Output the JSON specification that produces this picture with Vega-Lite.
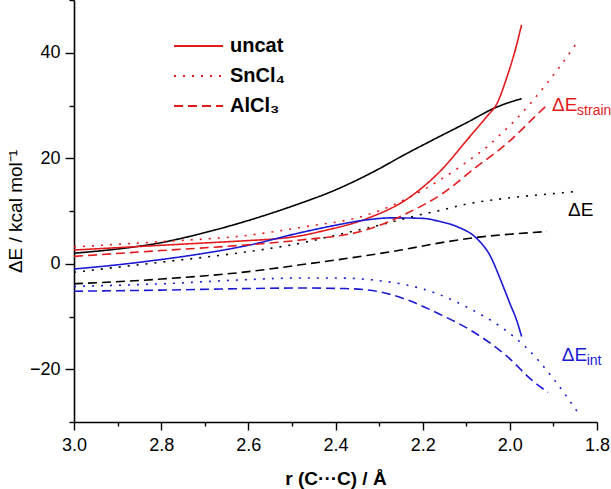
{
  "$schema": "https://vega.github.io/schema/vega-lite/v6.json",
  "width": 523,
  "height": 422,
  "autosize": {"type": "none"},
  "padding": {"left": 74, "top": 0, "right": 14, "bottom": 67},
  "background": "white",
  "config": {
    "view": {"stroke": null},
    "font": "Liberation Sans",
    "axis": {"grid": false, "domainColor": "black", "domainWidth": 1.6, "tickColor": "black", "tickWidth": 1.4, "labelColor": "black", "titleColor": "black", "labelFont": "Liberation Sans", "titleFont": "Liberation Sans", "labelFontSize": 18}
  },
  "datasets": {
    "curves": [
      {"r": 3.0, "E": 2.0, "comp": "total", "cat": "uncat"},
      {"r": 2.9, "E": 2.8, "comp": "total", "cat": "uncat"},
      {"r": 2.8, "E": 4.0, "comp": "total", "cat": "uncat"},
      {"r": 2.7, "E": 5.9, "comp": "total", "cat": "uncat"},
      {"r": 2.6, "E": 8.2, "comp": "total", "cat": "uncat"},
      {"r": 2.5, "E": 10.9, "comp": "total", "cat": "uncat"},
      {"r": 2.4, "E": 14.0, "comp": "total", "cat": "uncat"},
      {"r": 2.3, "E": 18.0, "comp": "total", "cat": "uncat"},
      {"r": 2.25, "E": 20.3, "comp": "total", "cat": "uncat"},
      {"r": 2.176, "E": 23.5, "comp": "total", "cat": "uncat"},
      {"r": 2.1, "E": 26.7, "comp": "total", "cat": "uncat"},
      {"r": 2.03, "E": 29.7, "comp": "total", "cat": "uncat"},
      {"r": 1.973, "E": 31.3, "comp": "total", "cat": "uncat"},

      {"r": 3.0, "E": 2.6, "comp": "strain", "cat": "uncat"},
      {"r": 2.8, "E": 3.5, "comp": "strain", "cat": "uncat"},
      {"r": 2.6, "E": 4.4, "comp": "strain", "cat": "uncat"},
      {"r": 2.54, "E": 4.7, "comp": "strain", "cat": "uncat"},
      {"r": 2.48, "E": 5.3, "comp": "strain", "cat": "uncat"},
      {"r": 2.43, "E": 6.2, "comp": "strain", "cat": "uncat"},
      {"r": 2.33, "E": 8.5, "comp": "strain", "cat": "uncat"},
      {"r": 2.23, "E": 12.6, "comp": "strain", "cat": "uncat"},
      {"r": 2.15, "E": 18.4, "comp": "strain", "cat": "uncat"},
      {"r": 2.1, "E": 23.3, "comp": "strain", "cat": "uncat"},
      {"r": 2.053, "E": 27.9, "comp": "strain", "cat": "uncat"},
      {"r": 2.03, "E": 30.3, "comp": "strain", "cat": "uncat"},
      {"r": 2.007, "E": 35.3, "comp": "strain", "cat": "uncat"},
      {"r": 1.988, "E": 40.4, "comp": "strain", "cat": "uncat"},
      {"r": 1.973, "E": 45.3, "comp": "strain", "cat": "uncat"},

      {"r": 3.0, "E": -1.0, "comp": "int", "cat": "uncat"},
      {"r": 2.9, "E": -0.2, "comp": "int", "cat": "uncat"},
      {"r": 2.8, "E": 0.8, "comp": "int", "cat": "uncat"},
      {"r": 2.7, "E": 2.0, "comp": "int", "cat": "uncat"},
      {"r": 2.6, "E": 3.5, "comp": "int", "cat": "uncat"},
      {"r": 2.48, "E": 5.9, "comp": "int", "cat": "uncat"},
      {"r": 2.4, "E": 7.3, "comp": "int", "cat": "uncat"},
      {"r": 2.33, "E": 8.3, "comp": "int", "cat": "uncat"},
      {"r": 2.27, "E": 8.7, "comp": "int", "cat": "uncat"},
      {"r": 2.2, "E": 8.6, "comp": "int", "cat": "uncat"},
      {"r": 2.16, "E": 8.0, "comp": "int", "cat": "uncat"},
      {"r": 2.12, "E": 7.0, "comp": "int", "cat": "uncat"},
      {"r": 2.076, "E": 4.8, "comp": "int", "cat": "uncat"},
      {"r": 2.045, "E": 1.5, "comp": "int", "cat": "uncat"},
      {"r": 2.02, "E": -3.3, "comp": "int", "cat": "uncat"},
      {"r": 2.0, "E": -7.5, "comp": "int", "cat": "uncat"},
      {"r": 1.984, "E": -10.8, "comp": "int", "cat": "uncat"},
      {"r": 1.973, "E": -13.8, "comp": "int", "cat": "uncat"},

      {"r": 3.0, "E": 3.2, "comp": "strain", "cat": "SnCl₄"},
      {"r": 2.8, "E": 4.2, "comp": "strain", "cat": "SnCl₄"},
      {"r": 2.6, "E": 5.4, "comp": "strain", "cat": "SnCl₄"},
      {"r": 2.48, "E": 6.9, "comp": "strain", "cat": "SnCl₄"},
      {"r": 2.33, "E": 9.2, "comp": "strain", "cat": "SnCl₄"},
      {"r": 2.24, "E": 12.2, "comp": "strain", "cat": "SnCl₄"},
      {"r": 2.16, "E": 15.9, "comp": "strain", "cat": "SnCl₄"},
      {"r": 2.087, "E": 20.0, "comp": "strain", "cat": "SnCl₄"},
      {"r": 2.049, "E": 22.4, "comp": "strain", "cat": "SnCl₄"},
      {"r": 2.019, "E": 24.7, "comp": "strain", "cat": "SnCl₄"},
      {"r": 2.0, "E": 26.2, "comp": "strain", "cat": "SnCl₄"},
      {"r": 1.958, "E": 29.9, "comp": "strain", "cat": "SnCl₄"},
      {"r": 1.912, "E": 34.5, "comp": "strain", "cat": "SnCl₄"},
      {"r": 1.885, "E": 37.4, "comp": "strain", "cat": "SnCl₄"},
      {"r": 1.843, "E": 42.3, "comp": "strain", "cat": "SnCl₄"},

      {"r": 3.0, "E": -4.3, "comp": "int", "cat": "SnCl₄"},
      {"r": 2.8, "E": -3.8, "comp": "int", "cat": "SnCl₄"},
      {"r": 2.6, "E": -3.0, "comp": "int", "cat": "SnCl₄"},
      {"r": 2.48, "E": -2.7, "comp": "int", "cat": "SnCl₄"},
      {"r": 2.4, "E": -2.7, "comp": "int", "cat": "SnCl₄"},
      {"r": 2.3, "E": -3.2, "comp": "int", "cat": "SnCl₄"},
      {"r": 2.176, "E": -5.4, "comp": "int", "cat": "SnCl₄"},
      {"r": 2.099, "E": -8.2, "comp": "int", "cat": "SnCl₄"},
      {"r": 2.022, "E": -11.9, "comp": "int", "cat": "SnCl₄"},
      {"r": 1.961, "E": -16.0, "comp": "int", "cat": "SnCl₄"},
      {"r": 1.9, "E": -21.8, "comp": "int", "cat": "SnCl₄"},
      {"r": 1.843, "E": -28.3, "comp": "int", "cat": "SnCl₄"},

      {"r": 3.0, "E": -1.6, "comp": "total", "cat": "SnCl₄"},
      {"r": 2.8, "E": 0.3, "comp": "total", "cat": "SnCl₄"},
      {"r": 2.6, "E": 2.3, "comp": "total", "cat": "SnCl₄"},
      {"r": 2.48, "E": 3.9, "comp": "total", "cat": "SnCl₄"},
      {"r": 2.4, "E": 5.4, "comp": "total", "cat": "SnCl₄"},
      {"r": 2.3, "E": 7.3, "comp": "total", "cat": "SnCl₄"},
      {"r": 2.2, "E": 9.4, "comp": "total", "cat": "SnCl₄"},
      {"r": 2.16, "E": 10.1, "comp": "total", "cat": "SnCl₄"},
      {"r": 2.1, "E": 11.3, "comp": "total", "cat": "SnCl₄"},
      {"r": 2.0, "E": 12.5, "comp": "total", "cat": "SnCl₄"},
      {"r": 1.9, "E": 13.3, "comp": "total", "cat": "SnCl₄"},
      {"r": 1.847, "E": 13.7, "comp": "total", "cat": "SnCl₄"},

      {"r": 3.0, "E": 1.4, "comp": "strain", "cat": "AlCl₃"},
      {"r": 2.8, "E": 2.5, "comp": "strain", "cat": "AlCl₃"},
      {"r": 2.6, "E": 3.6, "comp": "strain", "cat": "AlCl₃"},
      {"r": 2.48, "E": 4.5, "comp": "strain", "cat": "AlCl₃"},
      {"r": 2.33, "E": 6.4, "comp": "strain", "cat": "AlCl₃"},
      {"r": 2.24, "E": 9.4, "comp": "strain", "cat": "AlCl₃"},
      {"r": 2.153, "E": 13.4, "comp": "strain", "cat": "AlCl₃"},
      {"r": 2.076, "E": 18.4, "comp": "strain", "cat": "AlCl₃"},
      {"r": 2.026, "E": 21.5, "comp": "strain", "cat": "AlCl₃"},
      {"r": 2.0, "E": 23.3, "comp": "strain", "cat": "AlCl₃"},
      {"r": 1.977, "E": 25.1, "comp": "strain", "cat": "AlCl₃"},
      {"r": 1.946, "E": 27.6, "comp": "strain", "cat": "AlCl₃"},
      {"r": 1.912, "E": 30.3, "comp": "strain", "cat": "AlCl₃"},

      {"r": 3.0, "E": -5.2, "comp": "int", "cat": "AlCl₃"},
      {"r": 2.8, "E": -5.0, "comp": "int", "cat": "AlCl₃"},
      {"r": 2.6, "E": -4.7, "comp": "int", "cat": "AlCl₃"},
      {"r": 2.48, "E": -4.6, "comp": "int", "cat": "AlCl₃"},
      {"r": 2.38, "E": -4.7, "comp": "int", "cat": "AlCl₃"},
      {"r": 2.3, "E": -5.3, "comp": "int", "cat": "AlCl₃"},
      {"r": 2.237, "E": -6.8, "comp": "int", "cat": "AlCl₃"},
      {"r": 2.16, "E": -9.6, "comp": "int", "cat": "AlCl₃"},
      {"r": 2.09, "E": -12.6, "comp": "int", "cat": "AlCl₃"},
      {"r": 2.007, "E": -17.5, "comp": "int", "cat": "AlCl₃"},
      {"r": 1.946, "E": -22.3, "comp": "int", "cat": "AlCl₃"},
      {"r": 1.912, "E": -24.4, "comp": "int", "cat": "AlCl₃"},

      {"r": 3.0, "E": -3.8, "comp": "total", "cat": "AlCl₃"},
      {"r": 2.8, "E": -2.9, "comp": "total", "cat": "AlCl₃"},
      {"r": 2.6, "E": -1.5, "comp": "total", "cat": "AlCl₃"},
      {"r": 2.48, "E": -0.2, "comp": "total", "cat": "AlCl₃"},
      {"r": 2.4, "E": 0.7, "comp": "total", "cat": "AlCl₃"},
      {"r": 2.25, "E": 2.6, "comp": "total", "cat": "AlCl₃"},
      {"r": 2.15, "E": 4.1, "comp": "total", "cat": "AlCl₃"},
      {"r": 2.076, "E": 5.0, "comp": "total", "cat": "AlCl₃"},
      {"r": 2.0, "E": 5.6, "comp": "total", "cat": "AlCl₃"},
      {"r": 1.915, "E": 6.1, "comp": "total", "cat": "AlCl₃"}
    ],
    "labels": [
      {"r": 1.903, "E": 30.1, "main": "ΔE", "sub": "strain", "comp": "strain"},
      {"r": 1.8665, "E": 10.2, "main": "ΔE", "sub": "", "comp": "total"},
      {"r": 1.881, "E": -17.3, "main": "ΔE", "sub": "int", "comp": "int"}
    ]
  },
  "layer": [
    {
      "data": {"name": "curves"},
      "mark": {"type": "line", "interpolate": "monotone", "strokeWidth": 1.6},
      "encoding": {
        "x": {"field": "r", "type": "quantitative",
          "scale": {"domain": [1.8, 3.0], "reverse": true, "nice": false, "zero": false},
          "axis": {
            "values": [1.8, 1.9, 2.0, 2.1, 2.2, 2.3, 2.4, 2.5, 2.6, 2.7, 2.8, 2.9, 3.0],
            "format": ".1f",
            "labelExpr": "round(datum.value * 10) % 2 === 0 ? datum.label : ''",
            "tickSize": {"condition": {"test": "round(datum.value * 10) % 2 === 0", "value": 8}, "value": 4},
            "labelPadding": 6,
            "labelFlush": false,
            "labelOverlap": false,
            "title": "r (C···C) / Å",
            "titleFontSize": 19,
            "titleFontWeight": "bold",
            "titleY": 56,
            "titleBaseline": "middle"
          }
        },
        "y": {"field": "E", "type": "quantitative",
          "scale": {"domain": [-30, 50], "nice": false, "zero": false},
          "axis": {
            "values": [-30, -20, -10, 0, 10, 20, 30, 40, 50],
            "labelExpr": "datum.value % 20 === 0 && datum.value !== -30 && datum.value !== 50 ? datum.label : ''",
            "tickSize": {"condition": {"test": "datum.value % 20 === 0", "value": 9}, "value": 5},
            "labelPadding": 5,
            "labelFlush": false,
            "labelOverlap": false,
            "title": "ΔE / kcal mol⁻¹",
            "titleFontSize": 19,
            "titleFontWeight": "normal",
            "titleAngle": -90,
            "titleX": -59,
            "titleY": 211,
            "titleAlign": "center",
            "titleBaseline": "middle"
          }
        },
        "color": {"field": "comp", "type": "nominal",
          "scale": {"domain": ["strain", "int", "total"], "range": ["#e31a1c", "#1a1ad6", "#000000"]},
          "legend": null},
        "strokeDash": {"field": "cat", "type": "nominal",
          "scale": {"domain": ["uncat", "SnCl₄", "AlCl₃"], "range": [[1, 0], [2, 7], [9, 5]]},
          "legend": {
            "title": null,
            "orient": "none",
            "legendX": 99,
            "legendY": 34,
            "padding": 0,
            "symbolType": "stroke",
            "symbolSize": 2400,
            "symbolStrokeWidth": 1.8,
            "symbolStrokeColor": "#e31a1c",
            "labelFontSize": 20,
            "labelFontWeight": "bold",
            "labelColor": "black",
            "labelOffset": 6,
            "clipHeight": 24,
            "rowPadding": 6
          }
        }
      }
    },
    {
      "data": {"name": "labels"},
      "mark": {"type": "text", "align": "left", "baseline": "middle", "fontSize": 19},
      "encoding": {
        "x": {"field": "r", "type": "quantitative"},
        "y": {"field": "E", "type": "quantitative"},
        "text": {"field": "main"},
        "color": {"field": "comp", "type": "nominal", "legend": null}
      }
    },
    {
      "data": {"name": "labels"},
      "mark": {"type": "text", "align": "left", "baseline": "middle", "fontSize": 14, "dx": 25, "dy": 6},
      "encoding": {
        "x": {"field": "r", "type": "quantitative"},
        "y": {"field": "E", "type": "quantitative"},
        "text": {"field": "sub"},
        "color": {"field": "comp", "type": "nominal", "legend": null}
      }
    }
  ]
}
